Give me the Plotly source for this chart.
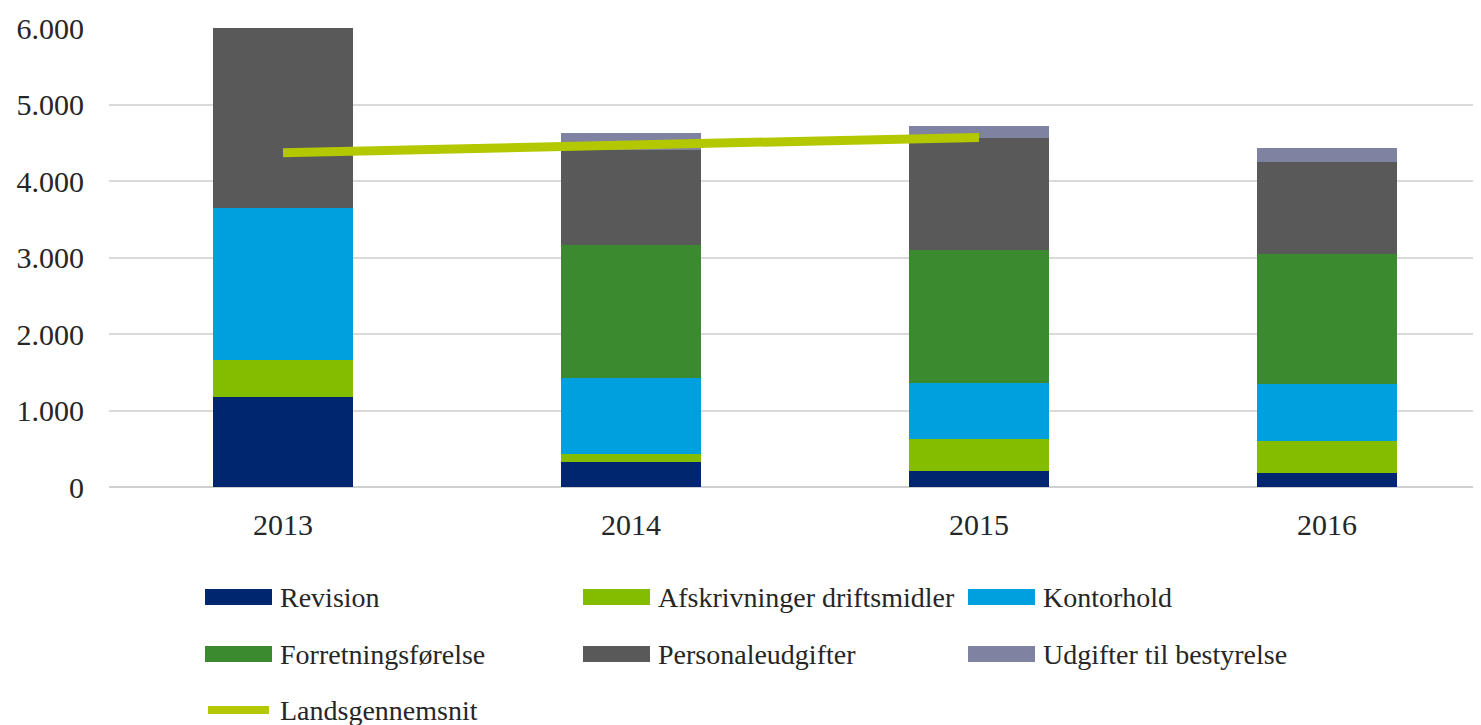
import plotly.graph_objects as go

years = ["2013", "2014", "2015", "2016"]
revision = [1180, 330, 210, 185]
afskrivninger = [485, 100, 415, 415]
kontorhold = [1985, 1000, 735, 745]
forretning = [0, 1740, 1740, 1700]
personale = [2350, 1240, 1465, 1200]
bestyrelse = [0, 220, 155, 185]
lands_years = ["2013", "2014", "2015"]
landsgennemsnit = [4370, 4470, 4570]

series_names = ["Revision", "Afskrivninger driftsmidler", "Kontorhold",
                "Forretningsførelse", "Personaleudgifter", "Udgifter til bestyrelse"]
series_values = [revision, afskrivninger, kontorhold, forretning, personale, bestyrelse]
series_colors = ["#00266F", "#84BD00", "#00A0DF", "#3C8A30", "#595959", "#8082A2"]
line_name = "Landsgennemsnit"
line_color = "#B4C800"

y_ticks = [0, 1000, 2000, 3000, 4000, 5000, 6000]
y_ticktext = ["0", "1.000", "2.000", "3.000", "4.000", "5.000", "6.000"]

FONT = "Liberation Serif, Times New Roman, serif"
OFF = 8  # page body margin
W, H = 1481, 725
L, R, T = 109 - OFF, 0, 28 - OFF
B = H - (487 - OFF)

fig = go.Figure()
for name, vals, col in zip(series_names, series_values, series_colors):
    fig.add_trace(go.Bar(x=years, y=vals, name=name, marker_color=col,
                         marker_line_width=0, showlegend=False))
fig.add_trace(go.Scatter(x=lands_years, y=landsgennemsnit, name=line_name, mode="lines",
                         line=dict(color=line_color, width=9), showlegend=False))

plot_w = W - L - R
plot_h = H - T - B
cat_px = 348.0
fig.update_layout(
    width=W, height=H,
    margin=dict(l=L, r=R, t=T, b=B, pad=0),
    barmode="stack", bargap=0.6,
    plot_bgcolor="white", paper_bgcolor="white",
    font=dict(family=FONT, size=30, color="#262626"),
    xaxis=dict(type="category", range=[-0.5, -0.5 + plot_w / cat_px],
               showgrid=False, showline=False, ticks="", ticklabelstandoff=17,
               tickfont=dict(size=30)),
    yaxis=dict(range=[0, 6000], tickvals=y_ticks, ticktext=y_ticktext,
               showgrid=True, gridcolor="#D9D9D9", gridwidth=2,
               zeroline=True, zerolinecolor="#D0D0D0", zerolinewidth=2,
               showline=False, ticks="", ticklabelstandoff=24,
               tickfont=dict(size=30)),
)

# Custom legend (large swatches as in reference); positions in page pixels
def px_to_paper(px, py):
    return (px - OFF - L) / plot_w, (H - B - (py - OFF)) / plot_h

legend_cols = [205, 583, 968]
legend_rows = [597, 654, 710]
sw_w, sw_h = 67, 16
entries = list(zip(series_names, series_colors))
for i, (name, col) in enumerate(entries):
    cx = legend_cols[i % 3]
    cy = legend_rows[i // 3]
    x0, y0 = px_to_paper(cx, cy + sw_h / 2)
    x1, y1 = px_to_paper(cx + sw_w, cy - sw_h / 2)
    fig.add_shape(type="rect", xref="paper", yref="paper", x0=x0, x1=x1, y0=y0, y1=y1,
                  fillcolor=col, line=dict(width=0))
    tx, ty = px_to_paper(cx + sw_w + 6, cy)
    fig.add_annotation(xref="paper", yref="paper", x=tx, y=ty, text=name, showarrow=False,
                       xanchor="left", yanchor="middle", font=dict(family=FONT, size=28, color="#262626"))
# line legend entry
cx, cy = legend_cols[0], legend_rows[2]
x0, y0 = px_to_paper(cx + 3, cy)
x1, _ = px_to_paper(cx + sw_w - 3, cy)
fig.add_shape(type="line", xref="paper", yref="paper", x0=x0, x1=x1, y0=y0, y1=y0,
              line=dict(color=line_color, width=8))
tx, ty = px_to_paper(cx + sw_w + 6, cy)
fig.add_annotation(xref="paper", yref="paper", x=tx, y=ty, text=line_name, showarrow=False,
                   xanchor="left", yanchor="middle", font=dict(family=FONT, size=28, color="#262626"))

fig.write_html("out.html")
